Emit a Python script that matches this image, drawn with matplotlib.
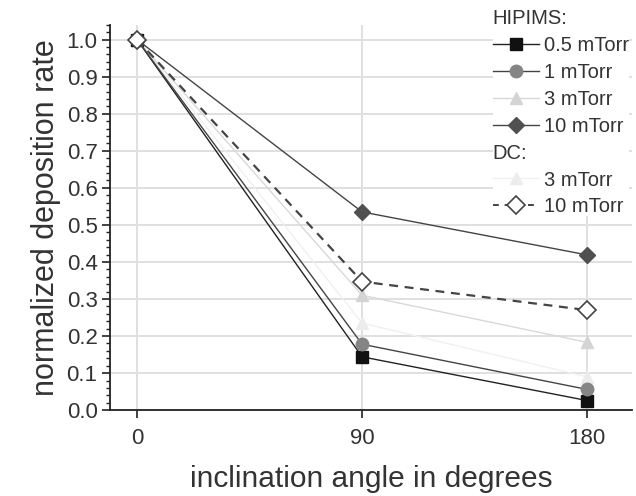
import matplotlib
matplotlib.use("Agg")
import matplotlib.pyplot as plt
from matplotlib.ticker import MultipleLocator
from matplotlib.lines import Line2D

plt.rcParams['font.family'] = ['Liberation Sans', 'DejaVu Sans']

# data
angle = [0, 90, 180]
hip_05 = [1.0, 0.144, 0.026]
hip_1 = [1.0, 0.178, 0.056]
hip_3 = [1.0, 0.31, 0.183]
hip_10 = [1.0, 0.535, 0.419]
dc_3 = [1.0, 0.235, 0.09]
dc_10 = [1.0, 0.347, 0.27]

x_ticks = [0, 90, 180]

fig = plt.figure(figsize=(6.36, 4.96), dpi=100)
ax = fig.add_axes([0.173, 0.173, 0.821, 0.777])

ax.plot(angle, dc_3, color='#f0f0f0', lw=1.0, marker='^', ms=9, mfc='#ececec', mec='#ececec', zorder=3)
ax.plot(angle, hip_3, color='#d8d8d8', lw=1.0, marker='^', ms=9, mfc='#d4d4d4', mec='#d4d4d4', zorder=3)
ax.plot(angle, hip_05, color='#222222', lw=1.0, marker='s', ms=8, mfc='#111111', mec='#111111', zorder=4)
ax.plot(angle, hip_1, color='#444444', lw=1.0, marker='o', ms=9, mfc='#858585', mec='#858585', zorder=4)
ax.plot(angle, hip_10, color='#444444', lw=1.0, marker='D', ms=8, mfc='#505050', mec='#505050', zorder=4)
ax.plot(angle, dc_10, color='#444444', lw=1.6, ls=(0, (4, 3)), marker='D', ms=9,
        mfc='white', mec='#444444', mew=1.2, zorder=5)

ax.set_xlim(-10.8, 198)
ax.set_ylim(0, 1.04)
ax.set_xticks(x_ticks)
ax.yaxis.set_major_locator(MultipleLocator(0.1))
ax.yaxis.set_minor_locator(MultipleLocator(0.02))
ax.set_yticks([i / 10 for i in range(11)])
ax.set_yticklabels([f"{i / 10:.1f}" for i in range(11)])

ax.grid(True, which='major', color='#e0e0e0', lw=1.4)
ax.set_axisbelow(True)
for s in ['top', 'right']:
    ax.spines[s].set_visible(False)
for s in ['left', 'bottom']:
    ax.spines[s].set_linewidth(1.3)
    ax.spines[s].set_color('#222222')

ax.tick_params(axis='both', which='major', labelsize=16, length=6, width=1.2,
               colors='#222222', labelcolor='#333333')
ax.tick_params(axis='x', which='major', pad=7)
ax.tick_params(axis='y', which='major', pad=3)
ax.tick_params(axis='y', which='minor', length=3, width=1.0, color='#222222')

ax.set_xlabel('inclination angle in degrees', fontsize=21.5, color='#333333', labelpad=11)
ax.set_ylabel('normalized deposition rate', fontsize=22, color='#333333', labelpad=4)

blank = Line2D([], [], color='none')
handles = [
    blank,
    Line2D([], [], color='#222222', lw=1.0, marker='s', ms=8, mfc='#111111', mec='#111111'),
    Line2D([], [], color='#444444', lw=1.0, marker='o', ms=9, mfc='#858585', mec='#858585'),
    Line2D([], [], color='#d8d8d8', lw=1.0, marker='^', ms=9, mfc='#d4d4d4', mec='#d4d4d4'),
    Line2D([], [], color='#444444', lw=1.0, marker='D', ms=8, mfc='#505050', mec='#505050'),
    blank,
    Line2D([], [], color='#f0f0f0', lw=1.0, marker='^', ms=9, mfc='#ececec', mec='#ececec'),
    Line2D([], [], color='#444444', lw=1.4, ls=(0, (3, 3)), marker='D', ms=9,
           mfc='white', mec='#444444', mew=1.2),
]
labels = ['HIPIMS:', '0.5 mTorr', '1 mTorr', '3 mTorr', '10 mTorr', 'DC:', '3 mTorr', '10 mTorr']
headings = {'HIPIMS:', 'DC:'}

leg = ax.legend(handles, labels, loc='upper left', bbox_to_anchor=(0.733, 1.04),
                frameon=True, fontsize=14.5, handlelength=2.3, handletextpad=0.25,
                labelspacing=0.39, borderpad=0.0, borderaxespad=0.0, labelcolor='#333333')
leg.get_frame().set_edgecolor('none')
leg.get_frame().set_facecolor('white')
leg.get_frame().set_alpha(1.0)

# push the heading rows to the left edge of the legend
for col in leg._legend_handle_box.get_children():
    for item in col.get_children():
        hbox, tbox = item.get_children()
        if tbox._text.get_text() in headings:
            hbox.width = 0
            item.sep = 0

fig.savefig('out.png', dpi=100, facecolor='white')
